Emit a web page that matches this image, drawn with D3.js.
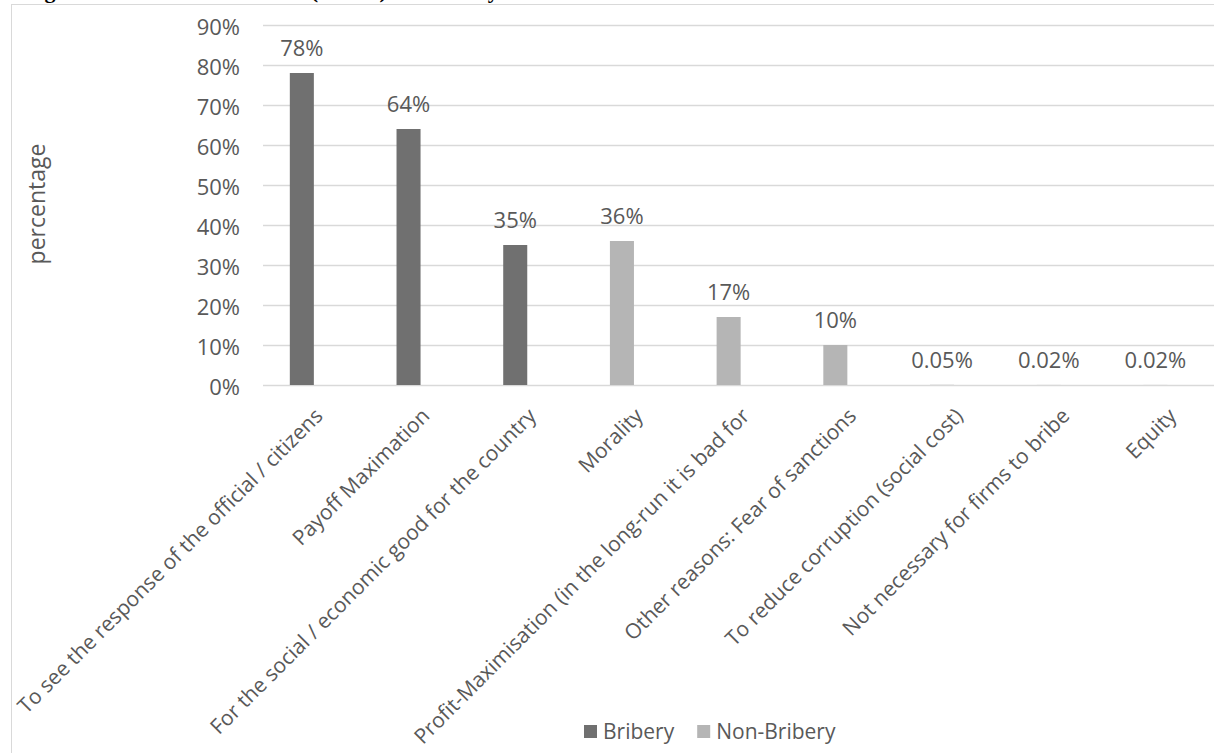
<!DOCTYPE html>
<html>
<head>
<meta charset="utf-8">
<script src="https://cdn.jsdelivr.net/npm/d3@7"></script>
<style>
  html, body { margin: 0; padding: 0; background: #ffffff; overflow: hidden; }
  svg { display: block; }
  text { font-family: "Open Sans", "Noto Sans", sans-serif; fill: #595959; }
</style>
</head>
<body>
<svg id="chart" width="1214" height="753"></svg>
<script>
// ---- data ----
const categories = [
  "To see the response of the official / citizens",
  "Payoff Maximation",
  "For the social / economic good for the country",
  "Morality",
  "Profit-Maximisation (in the long-run it is bad for",
  "Other reasons: Fear of sanctions",
  "To reduce corruption (social cost)",
  "Not necessary for firms to bribe",
  "Equity"
];
const values = [78, 64, 35, 36, 17, 10, 0.05, 0.02, 0.02];
const valueLabels = ["78%", "64%", "35%", "36%", "17%", "10%", "0.05%", "0.02%", "0.02%"];
const groups = ["Bribery", "Bribery", "Bribery", "Non-Bribery", "Non-Bribery", "Non-Bribery", "Non-Bribery", "Non-Bribery", "Non-Bribery"];
const seriesNames = ["Bribery", "Non-Bribery"];
const seriesColors = ["#707070", "#b5b5b5"];
const yTicks = [0, 10, 20, 30, 40, 50, 60, 70, 80, 90];
const yTickLabels = ["0%", "10%", "20%", "30%", "40%", "50%", "60%", "70%", "80%", "90%"];
const yAxisTitle = "percentage";
const titleText = "Figure 4: Reasons for Choices (N=120) for Bribery";

// ---- layout ----
const svg = d3.select("#chart");
const W = 1214, H = 753;
const plot = { left: 260.5, right: 1220.8, top: 25, bottom: 385 };

// chart area border (extends past the photographed edge)
svg.append("rect")
  .attr("x", 11.5).attr("y", 4.5)
  .attr("width", 1300).attr("height", 800)
  .attr("fill", "none").attr("stroke", "#d9d9d9").attr("stroke-width", 1);

// document title, cut off by the top edge as in the source
svg.append("text")
  .attr("x", 25).attr("y", -2.5)
  .style("font-family", "'Liberation Serif', 'Times New Roman', serif")
  .style("font-weight", "bold").style("font-size", "22px").style("fill", "#000")
  .text(titleText);

const x0 = d3.scaleBand().domain(categories).range([plot.left, plot.right]).padding(0);
const x1 = d3.scaleBand().domain(["slotA", "slotB"]).range([0, x0.bandwidth()]).paddingInner(0).paddingOuter(1.22);
const y = d3.scaleLinear().domain([0, 90]).range([plot.bottom, plot.top]);
const color = d3.scaleOrdinal().domain(seriesNames).range(seriesColors);

// gridlines
const gGrid = svg.append("g");
gGrid.selectAll("line").data(yTicks).join("line")
  .attr("x1", 263).attr("x2", W)
  .attr("y1", d => Math.round(y(d)) + 0.5).attr("y2", d => Math.round(y(d)) + 0.5)
  .attr("stroke", "#d9d9d9").attr("stroke-width", 1.5);

// y axis labels
const yAxis = d3.axisLeft(y).tickValues(yTicks).tickSize(0).tickPadding(0)
  .tickFormat((d, i) => yTickLabels[i]);
const gy = svg.append("g").attr("transform", "translate(240,0)").call(yAxis);
gy.select(".domain").remove();
gy.selectAll("text").style("font-size", "22px").style("fill", "#595959")
  .style("font-family", "'Open Sans', sans-serif").attr("dy", "0.45em");

// y axis title
svg.append("text")
  .attr("transform", "translate(45,204) rotate(-90)")
  .attr("text-anchor", "middle")
  .style("font-size", "23px")
  .text(yAxisTitle);

// bars
const data = categories.map((c, i) => ({ c, v: values[i], g: groups[i], label: valueLabels[i] }));
svg.append("g").selectAll("rect").data(data).join("rect")
  .attr("x", d => x0(d.c) + x1("slotA"))
  .attr("width", x1.bandwidth())
  .attr("y", d => y(d.v))
  .attr("height", d => y(0) - y(d.v))
  .attr("fill", d => color(d.g));

// value labels
svg.append("g").selectAll("text").data(data).join("text")
  .attr("x", d => x0(d.c) + x1("slotA") + x1.bandwidth() / 2)
  .attr("y", d => y(d.v) - 17)
  .attr("text-anchor", "middle")
  .style("font-size", "22px")
  .text(d => d.label);

// category labels rotated -45
svg.append("g").selectAll("text").data(categories).join("text")
  .attr("transform", c => `translate(${x0(c) + x0.bandwidth() / 2 + 5},${plot.bottom + 27}) rotate(-45)`)
  .attr("text-anchor", "end")
  .attr("dy", "0.35em")
  .style("font-size", "21px")
  .text(c => c);

// legend
const legend = svg.append("g").attr("transform", "translate(0,732)");
let lx = 584;
seriesNames.forEach((s, i) => {
  legend.append("rect").attr("x", lx).attr("y", -7).attr("width", 13).attr("height", 13).attr("fill", color(s));
  const t = legend.append("text").attr("x", lx + 19).attr("y", 0).attr("dy", "0.35em")
    .style("font-size", "21px").text(s);
  lx += 19 + t.node().getComputedTextLength() + 23;
});
</script>
</body>
</html>
